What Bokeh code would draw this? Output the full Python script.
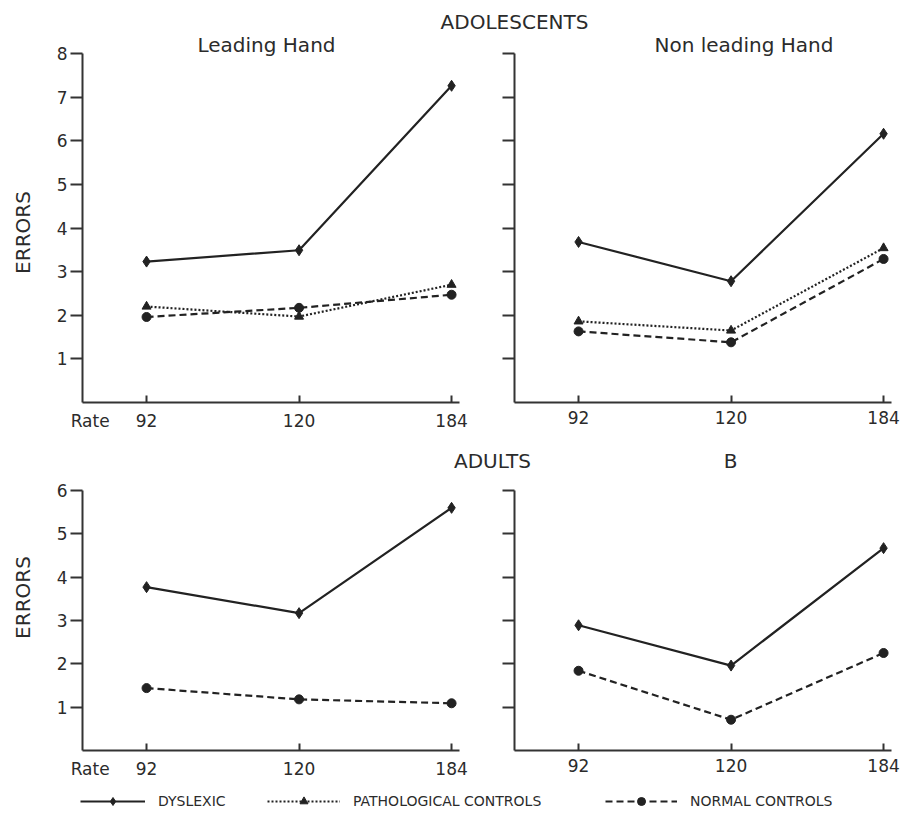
from math import pi
from bokeh.plotting import figure
from bokeh.layouts import column, row
from bokeh.models import Range1d, FixedTicker, Label, Legend, LegendItem, LinearAxis
from bokeh.embed import file_html
from bokeh.resources import INLINE

# ---------------- data ----------------
rates = ["92", "120", "184"]

adol_lead_dyslexic = [3.23, 3.49, 7.26]
adol_lead_pathological = [2.20, 1.97, 2.70]
adol_lead_normal = [1.96, 2.17, 2.47]

adol_nonlead_dyslexic = [3.68, 2.78, 6.16]
adol_nonlead_pathological = [1.86, 1.65, 3.54]
adol_nonlead_normal = [1.63, 1.38, 3.29]

adult_a_dyslexic = [3.77, 3.17, 5.60]
adult_a_normal = [1.44, 1.18, 1.09]

adult_b_dyslexic = [2.89, 1.96, 4.67]
adult_b_normal = [1.84, 0.71, 2.25]

legend_labels = ["DYSLEXIC", "PATHOLOGICAL CONTROLS", "NORMAL CONTROLS"]

# ---------------- styles ----------------
FONT = "DejaVu Sans"
INK = "#222222"
TXT = "#2b2b2b"
STYLES = {
    "dys": dict(line_dash="solid", marker="diamond", size=11),
    "path": dict(line_dash="2 2", marker="triangle", size=9),
    "norm": dict(line_dash="7 4", marker="circle", size=9),
}
x_idx = list(range(len(rates)))
RATE_POS = -0.37  # where the word "Rate" sits on the x axis line


def panel(width, height, borders, y_max, show_ylabels, series, title, title_offset, rate_word,
          title_standoff=0):
    bl, br, bt, bb = borders
    p = figure(width=width, height=height, output_backend="svg", toolbar_location=None, tools="",
               x_range=Range1d(-0.42, 2.052), y_range=Range1d(0, y_max),
               min_border_left=bl, min_border_right=br, min_border_top=bt, min_border_bottom=bb)
    p.grid.visible = False
    p.outline_line_color = None
    p.background_fill_color = "white"
    p.border_fill_color = "white"

    p.title.text = title
    p.title.align = "left"
    p.title.offset = title_offset
    p.title.standoff = title_standoff
    p.title.text_font = FONT
    p.title.text_font_size = "20px"
    p.title.text_font_style = "normal"
    p.title.text_color = TXT

    # axis 1: the line with inward ticks, no labels
    xa = p.xaxis[0]
    xa.ticker = FixedTicker(ticks=x_idx)
    xa.major_label_overrides = {i: "" for i in x_idx}
    xa.major_label_text_font_size = "0px"
    xa.major_label_standoff = 0
    xa.major_tick_in = 7
    xa.major_tick_out = 0
    xa.axis_line_width = 2
    xa.axis_line_color = "#333333"
    xa.major_tick_line_width = 2
    xa.major_tick_line_color = "#333333"
    xa.minor_tick_line_color = None

    # axis 2: labels only (rates, plus the word "Rate" on the left panels)
    ticks2 = ([RATE_POS] if rate_word else []) + x_idx
    over2 = {i: r for i, r in enumerate(rates)}
    if rate_word:
        over2[RATE_POS] = "Rate"
    xb = LinearAxis(ticker=FixedTicker(ticks=ticks2), major_label_overrides=over2,
                    axis_line_color=None, major_tick_line_color=None, minor_tick_line_color=None,
                    major_tick_in=0, major_tick_out=0, major_label_standoff=8,
                    major_label_text_font=FONT, major_label_text_font_size="17px",
                    major_label_text_color=TXT)
    p.add_layout(xb, "below")

    ya = p.yaxis[0]
    yt = list(range(1, y_max + 1))
    ya.ticker = FixedTicker(ticks=yt)
    ya.major_tick_in = 0
    ya.major_tick_out = 12
    if show_ylabels:
        ya.major_label_standoff = 3
    else:
        ya.major_label_overrides = {t: "" for t in yt}
        ya.major_label_standoff = 0
    ya.axis_line_width = 2
    ya.axis_line_color = "#333333"
    ya.major_tick_line_width = 2
    ya.major_tick_line_color = "#333333"
    ya.minor_tick_line_color = None
    ya.major_label_text_font = FONT
    ya.major_label_text_font_size = "17px"
    ya.major_label_text_color = TXT

    for vals, key in series:
        st = STYLES[key]
        p.line(x_idx, vals, line_color=INK, line_width=2.2, line_dash=st["line_dash"])
        p.scatter(x_idx, vals, marker=st["marker"], size=st["size"], fill_color=INK, line_color=INK)
    return p


def add_label(p, text, x, y, size="20px", align="center", angle=0.0):
    p.add_layout(Label(x=x, y=y, x_units="screen", y_units="screen", text=text,
                       text_font=FONT, text_font_size=size, text_color=TXT,
                       text_align=align, text_baseline="middle", angle=angle))


def strip(width, height):
    p = figure(width=width, height=height, output_backend="svg", toolbar_location=None, tools="",
               x_range=Range1d(0, 1), y_range=Range1d(0, 1), min_border=0,
               x_axis_location=None, y_axis_location=None)
    p.grid.visible = False
    p.outline_line_color = None
    return p


# ---------------- left strip (y-axis titles) ----------------
left = strip(40, 813)
add_label(left, "ERRORS", 22, 581, angle=pi / 2)
add_label(left, "ERRORS", 22, 216, angle=pi / 2)

# ---------------- top strip ----------------
strip_a = strip(864, 33)
add_label(strip_a, "ADOLESCENTS", 474, 11.5)

# ---------------- adolescents ----------------
tl = panel(460, 400, (42, 41, 20, 31), 8, True,
           [(adol_lead_dyslexic, "dys"), (adol_lead_pathological, "path"), (adol_lead_normal, "norm")],
           "Leading Hand", 115, True, title_standoff=-7)
tr = panel(404, 400, (14, 13, 20, 31), 8, False,
           [(adol_nonlead_dyslexic, "dys"), (adol_nonlead_pathological, "path"), (adol_nonlead_normal, "norm")],
           "Non leading Hand", 140, False, title_standoff=-7)

# ---------------- middle strip ----------------
strip_b = strip(864, 42)
add_label(strip_b, "ADULTS", 452, 15)
add_label(strip_b, "B", 690, 15)

# ---------------- adults ----------------
bl = panel(460, 306, (42, 41, 15, 31), 6, True,
           [(adult_a_dyslexic, "dys"), (adult_a_normal, "norm")], "", 0, True)
br = panel(404, 306, (14, 13, 15, 31), 6, False,
           [(adult_b_dyslexic, "dys"), (adult_b_normal, "norm")], "", 0, False)

# ---------------- legend strip ----------------
leg = strip(864, 32)
legend_series = [adol_lead_dyslexic, adol_lead_pathological, adol_lead_normal]
for label, key, vals, lx, gw in zip(legend_labels, ["dys", "path", "norm"], legend_series,
                                     [40, 227, 565], [65, 73, 72]):
    st = STYLES[key]
    lr = leg.line(x_idx, vals, line_color=INK, line_width=2, line_dash=st["line_dash"], visible=False)
    sr = leg.scatter(x_idx, vals, marker=st["marker"], size=st["size"],
                     fill_color=INK, line_color=INK, visible=False)
    lg = Legend(items=[LegendItem(label=label, renderers=[lr, sr])], location=(lx, 2),
                orientation="horizontal", glyph_width=gw, glyph_height=20, label_height=20,
                label_standoff=13, padding=0, spacing=0, border_line_color=None,
                background_fill_alpha=0, label_text_font=FONT, label_text_font_size="14px",
                label_text_color=TXT)
    leg.add_layout(lg, "center")

layout = row(left, column(strip_a, row(tl, tr), strip_b, row(bl, br), leg))

open("out.html", "w").write(file_html(layout, INLINE))
